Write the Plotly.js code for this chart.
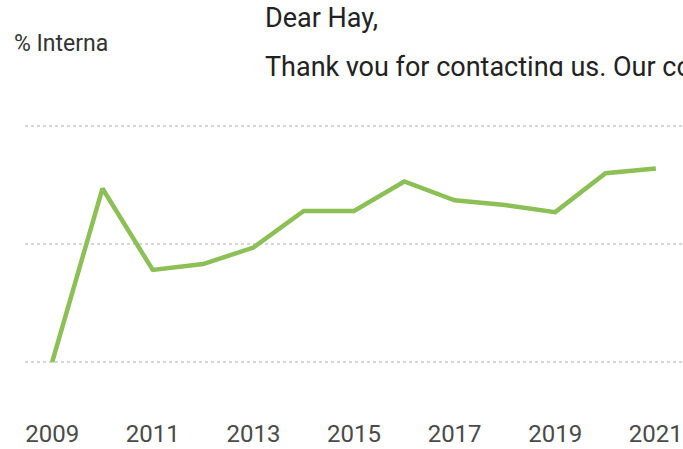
<!DOCTYPE html>
<html>
<head>
<meta charset="utf-8">
<script src="https://cdn.plot.ly/plotly-3.0.1.min.js"></script>
<style>
html,body{margin:0;padding:0;background:#fff;}
#wrap{position:relative;width:683px;height:449px;overflow:hidden;}
#chart{width:683px;height:449px;}
#mask{position:absolute;left:250px;top:76px;width:433px;height:28px;background:#fff;}
</style>
</head>
<body>
<div id="wrap">
<div id="chart"></div>
<div id="mask"></div>
</div>
<script>
const years = [2009, 2010, 2011, 2012, 2013, 2014, 2015, 2016, 2017, 2018, 2019, 2020, 2021];
const shareValues = [0, 14.7, 7.8, 8.3, 9.7, 12.8, 12.8, 15.3, 13.7, 13.3, 12.7, 16.0, 16.4];
const xTickVals = [2009, 2011, 2013, 2015, 2017, 2019, 2021];
const yTickVals = [0, 10, 20];
const axisLabel = "% Interna";
const letterLines = ["Dear Hay,", "Thank you for contacting us. Our company"];

const FONT = 'Roboto, "Liberation Sans", sans-serif';

const trace = {
  x: years,
  y: shareValues,
  type: 'scatter',
  mode: 'lines',
  line: {color: '#8cbf55', width: 4.5},
  hoverinfo: 'skip'
};

const layout = {
  width: 683,
  height: 449,
  margin: {l: 25, r: 0, t: 105, b: 32},
  paper_bgcolor: '#ffffff',
  plot_bgcolor: '#ffffff',
  showlegend: false,
  font: {family: FONT, color: '#444'},
  xaxis: {
    range: [2008.46, 2021.54],
    tickvals: xTickVals,
    ticktext: xTickVals.map(String),
    showgrid: false,
    zeroline: false,
    showline: false,
    ticks: '',
    tickfont: {family: FONT, size: 24, color: '#4a4a4a'},
    fixedrange: true
  },
  yaxis: {
    range: [-4.66, 21.78],
    tickvals: yTickVals,
    showticklabels: false,
    showgrid: true,
    gridcolor: '#d6d6d6',
    griddash: 'dot',
    gridwidth: 1.2,
    zeroline: false,
    showline: false,
    fixedrange: true
  },
  annotations: [
    {text: axisLabel, xref: 'paper', yref: 'paper', x: -0.019, y: 1.0, xanchor: 'left', yanchor: 'middle',
     yshift: 62, showarrow: false, font: {family: FONT, size: 23, color: '#333'}},
    {text: letterLines[0], xref: 'paper', yref: 'paper', x: 0.362, y: 1.0, xanchor: 'left', yanchor: 'middle',
     yshift: 87, showarrow: false, font: {family: FONT, size: 27, color: '#222'}},
    {text: letterLines[1], xref: 'paper', yref: 'paper', x: 0.362, y: 1.0, xanchor: 'left', yanchor: 'middle',
     yshift: 38, showarrow: false, font: {family: FONT, size: 27, color: '#222'}}
  ]
};

Plotly.newPlot('chart', [trace], layout, {displayModeBar: false, staticPlot: true});
</script>
</body>
</html>
